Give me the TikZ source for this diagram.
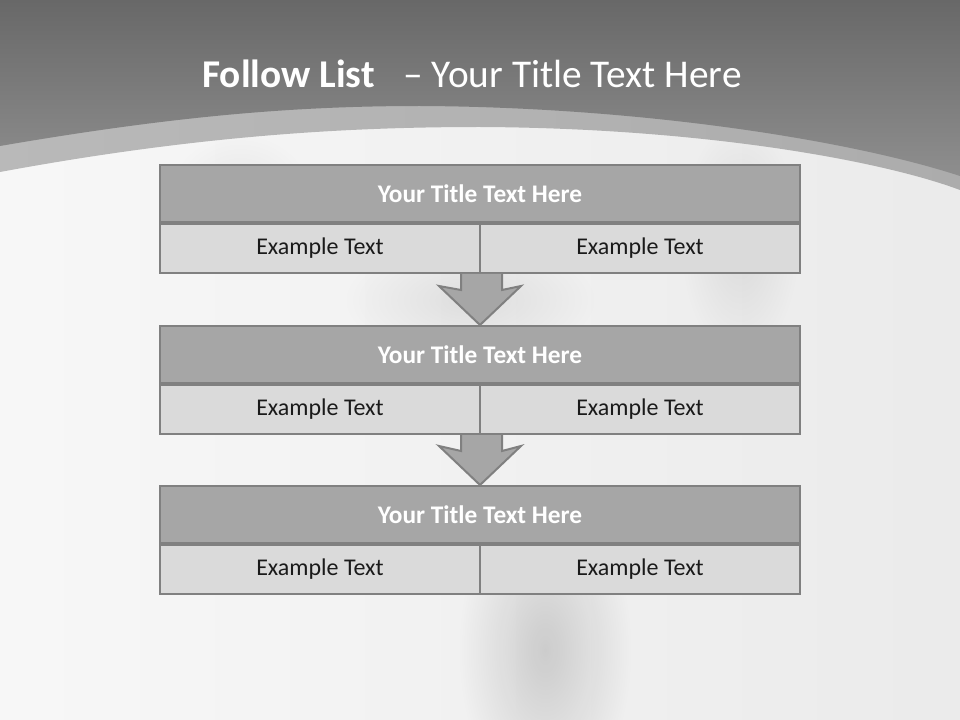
\documentclass[tikz,border=0pt]{standalone}
\usepackage{fontspec}
\setmainfont{Carlito}
\usetikzlibrary{calc,fadings}
\definecolor{topgray}{RGB}{104,104,104}
\definecolor{bandgray}{RGB}{142,142,142}
\definecolor{boxgray}{RGB}{166,166,166}
\definecolor{cellgray}{RGB}{218,218,218}
\definecolor{linegray}{RGB}{128,128,128}
\definecolor{textgray}{RGB}{26,26,26}

\tikzfading[name=softblob, inner color=transparent!0, outer color=transparent!100]

\tikzset{
  headbox/.style={draw=linegray, line width=1.5pt, fill=boxgray, minimum width=480pt,
    minimum height=42.75pt, inner sep=0pt, text=white, font=\fontsize{19}{23}\selectfont\bfseries},
  cellbox/.style={draw=linegray, line width=1.5pt, fill=cellgray, minimum width=240pt,
    minimum height=36.75pt, inner sep=0pt, text=textgray, font=\fontsize{18}{22}\selectfont},
  flowarrow/.style={draw=linegray, line width=1.5pt, fill=boxgray, line join=miter}
}

\begin{document}
\begin{tikzpicture}[x=0.75pt,y=-0.75pt]
\useasboundingbox (0,0) rectangle (960,720);

% Background
\shade[left color=white!97!black, right color=white!92!black] (0,0) rectangle (960,720);
\fill[black, opacity=0.15, path fading=softblob] (545,650) ellipse (65pt and 120pt);
\fill[black, opacity=0.08, path fading=softblob] (470,300) ellipse (95pt and 45pt);
\fill[black, opacity=0.08, path fading=softblob] (740,240) ellipse (45pt and 90pt);
\fill[black, opacity=0.06, path fading=softblob] (240,200) ellipse (55pt and 50pt);

% Curved band
\shade[left color=gray!55, middle color=gray!22, right color=gray!65]
  (0,0) -- (0,172) .. controls (200,135) and (350,127) .. (480,127)
  .. controls (700,128) and (880,160) .. (960,190) -- (960,0) -- cycle;
\shade[top color=topgray, bottom color=bandgray]
  (0,0) -- (0,146) .. controls (180,115) and (300,106) .. (420,106)
  .. controls (640,107) and (850,140) .. (960,176) -- (960,0) -- cycle;

% Title
\node[anchor=base west, inner sep=0pt, text=white, font=\fontsize{29.5}{35}\selectfont]
  (heading) at (202,88) {\textbf{Follow List}\hspace{0.73em}– Your Title Text Here};

% Blocks
\foreach \i/\y in {1/193.5,2/354.5,3/514.5} {
  \node[headbox] (title\i) at (480,\y) {Your Title Text Here};
  \node[cellbox, anchor=north west] (left\i) at (title\i.south west) {Example Text};
  \node[cellbox, anchor=north east] (right\i) at (title\i.south east) {Example Text};
}

% Arrows
\foreach \i/\j in {1/2,2/3} {
  \draw[flowarrow] ($(left\i.south east)+(-20,0)$) -- ($(left\i.south east)+(-20,16)$)
    -- ($(title\j.north)+(-41,-39)$) -- (title\j.north) -- ($(title\j.north)+(41,-39)$)
    -- ($(left\i.south east)+(21,16)$) -- ($(left\i.south east)+(21,0)$);
}

\end{tikzpicture}
\end{document}
